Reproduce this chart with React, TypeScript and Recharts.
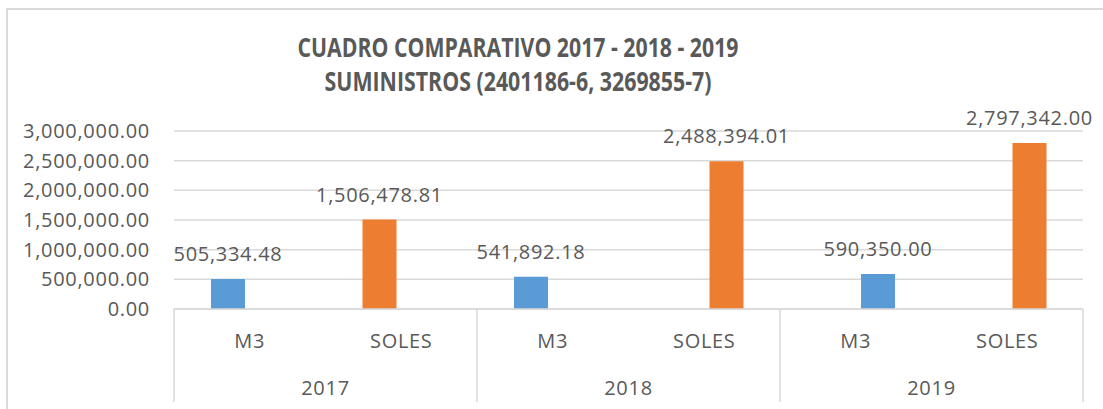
import { BarChart, Bar, XAxis, YAxis, CartesianGrid, Cell, LabelList } from "recharts"

const years = ["2017", "2017", "2018", "2018", "2019", "2019"]
const categories = ["M3", "SOLES", "M3", "SOLES", "M3", "SOLES"]
const values = [505334.48, 1506478.81, 541892.18, 2488394.01, 590350.0, 2797342.0]
// which of the two bar slots each value sits in (first or second series of the workbook)
const slot = [0, 0, 0, 1, 1, 1]
const yTicks = [0, 500000, 1000000, 1500000, 2000000, 2500000, 3000000]
const titleLines = ["CUADRO COMPARATIVO 2017 - 2018 - 2019", "SUMINISTROS (2401186-6, 3269855-7)"]

const colors: Record<string, string> = { M3: "#5B9BD5", SOLES: "#ED7D31" }

const data = categories.map((cat, i) => ({
  key: years[i] + "-" + cat,
  cat,
  year: years[i],
  a: slot[i] === 0 ? values[i] : null,
  b: slot[i] === 1 ? values[i] : null,
}))

const W = 1103
const H = 409
const PLOT_LEFT = 174
const PLOT_RIGHT = 1083
const AXIS_Y = 309
const GROUP_W = (PLOT_RIGHT - PLOT_LEFT) / 3
const FONT = "'Open Sans', sans-serif"
const TXT = "#595959"
const LINE = "#d9d9d9"
const LS = 0.7

const fmt = (v: any) =>
  v == null ? "" : Number(v).toLocaleString("en-US", { minimumFractionDigits: 2, maximumFractionDigits: 2 })

function CatTick(props: any) {
  const { x, index } = props
  return (
    <text x={x} y={AXIS_Y + 39} textAnchor="middle" fill={TXT} fontSize={20} fontFamily={FONT} letterSpacing={LS}>
      {categories[index]}
    </text>
  )
}

function YearTick(props: any) {
  const { x, index, payload } = props
  const half = GROUP_W / 2
  const last = index === new Set(years).size - 1
  return (
    <g>
      <line x1={x - half} x2={x - half} y1={AXIS_Y} y2={402} stroke={LINE} strokeWidth={1.5} />
      {last && <line x1={x + half} x2={x + half} y1={AXIS_Y} y2={402} stroke={LINE} strokeWidth={1.5} />}
      <text x={x} y={AXIS_Y + 86} textAnchor="middle" fill={TXT} fontSize={20} fontFamily={FONT} letterSpacing={LS}>
        {payload.value}
      </text>
    </g>
  )
}

export default function App() {
  return (
    <div style={{ position: "absolute", left: 0, top: 0, width: W, height: H, background: "#fff", overflow: "hidden" }}>
      <div
        style={{
          position: "absolute",
          left: 6,
          top: 8,
          width: 1300,
          height: 600,
          border: `2px solid ${LINE}`,
        }}
      />
      <svg width={W} height={110} style={{ position: "absolute", left: 0, top: 0 }}>
        {titleLines.map((t, i) => (
          <text
            key={t}
            x={518}
            y={57 + i * 34}
            textAnchor="middle"
            fill={TXT}
            fontSize={26}
            fontWeight="bold"
            fontFamily="'Open Sans', sans-serif"
            textLength={i === 0 ? 441 : 387}
            lengthAdjust="spacingAndGlyphs"
          >
            {t}
          </text>
        ))}
      </svg>
      <div style={{ position: "absolute", left: 0, top: 0 }}>
        <BarChart
          width={W}
          height={H}
          data={data}
          margin={{ top: 131, right: W - PLOT_RIGHT, left: 8, bottom: 0 }}
          barSize={34}
          barGap={10}
        >
          <CartesianGrid vertical={false} stroke={LINE} strokeWidth={1.5} />
          <XAxis
            dataKey="key"
            height={45}
            interval={0}
            tickLine={false}
            axisLine={{ stroke: LINE, strokeWidth: 1.5 }}
            tick={<CatTick />}
          />
          <XAxis
            xAxisId="year"
            dataKey="year"
            allowDuplicatedCategory={false}
            height={55}
            interval={0}
            tickLine={false}
            axisLine={false}
            tick={<YearTick />}
          />
          <YAxis
            width={166}
            domain={[0, 3000000]}
            ticks={yTicks}
            interval={0}
            axisLine={false}
            tickLine={false}
            tickMargin={18}
            tickFormatter={fmt}
            tick={{ fill: TXT, fontSize: 20, fontFamily: FONT, letterSpacing: LS }}
          />
          <Bar dataKey="a" isAnimationActive={false}>
            {data.map((d) => (
              <Cell key={d.key} fill={colors[d.cat]} />
            ))}
            <LabelList dataKey="a" position="top" offset={18} formatter={fmt} fill={TXT} fontSize={20} fontFamily={FONT} letterSpacing={LS} />
          </Bar>
          <Bar dataKey="b" isAnimationActive={false}>
            {data.map((d) => (
              <Cell key={d.key} fill={colors[d.cat]} />
            ))}
            <LabelList dataKey="b" position="top" offset={18} formatter={fmt} fill={TXT} fontSize={20} fontFamily={FONT} letterSpacing={LS} />
          </Bar>
        </BarChart>
      </div>
    </div>
  )
}
